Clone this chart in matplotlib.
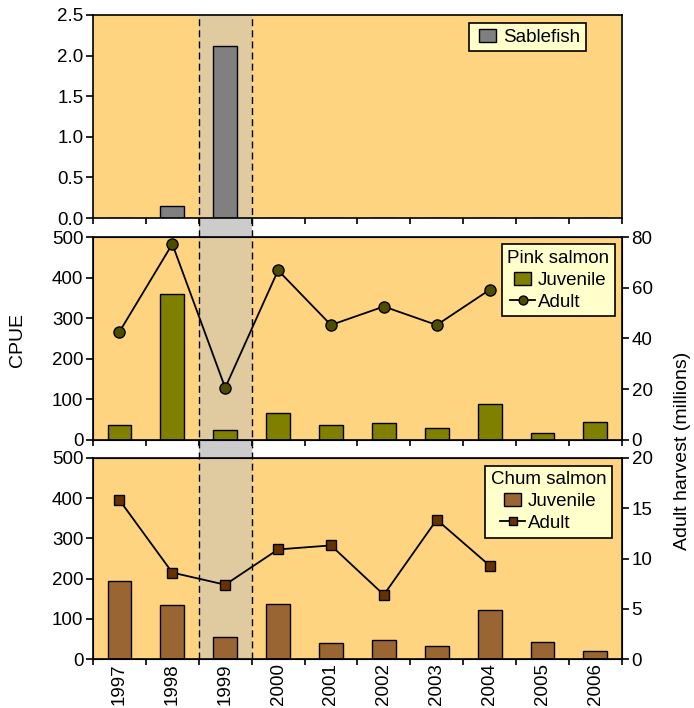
"""
Sablefish / pink salmon / chum salmon CPUE panels, 1997-2006
"""

import matplotlib
matplotlib.use('Agg')
import matplotlib.pyplot as plt
import matplotlib.transforms as mtransforms
from matplotlib.legend_handler import HandlerPatch
from matplotlib.lines import Line2D
from matplotlib.patches import Rectangle
import numpy as np

plt.rcParams['font.family'] = ['Liberation Sans', 'DejaVu Sans']
plt.rcParams['font.size'] = 14

# data
years = ['1997', '1998', '1999', '2000', '2001', '2002', '2003', '2004', '2005', '2006']
sablefish_cpue = [0, 0.15, 2.12, 0, 0, 0, 0, 0, 0, 0]
pink_juvenile = [36, 359, 25, 66, 36, 40, 30, 89, 17, 44]
pink_adult = [42.6, 77.3, 20.5, 66.9, 45.3, 52.6, 45.3, 59.2]
chum_juvenile = [195, 135, 55, 138, 40, 47, 32, 123, 44, 21]
chum_adult = [15.8, 8.6, 7.4, 10.9, 11.3, 6.4, 13.85, 9.3]
highlight_year = '1999'

# colours
bg_color = '#FFD480'
band_color = '#DFCB9F'
gap_color = '#CCCCCC'
legend_face = '#FFFFCC'
tick_size = 13.5
legend_size = 13.5

x = np.arange(len(years))
hi = years.index(highlight_year)
bar_w = 0.45

fig = plt.figure(figsize=(6.94, 7.08), dpi=100)
left, width = 0.134, 0.762
ax_top = fig.add_axes([left, 0.692, width, 0.287])
ax_mid = fig.add_axes([left, 0.379, width, 0.286])
ax_bot = fig.add_axes([left, 0.0688, width, 0.2847])
ax_mid2 = ax_mid.twinx()
ax_bot2 = ax_bot.twinx()


def small_box(legend, orig_handle, xdescent, ydescent, width, height, fontsize):
    # narrow box centred in the handle area
    w = height * 1.3
    return Rectangle((xdescent + (width - w) / 2, -ydescent), w, height)


def style_axes(ax):
    ax.set_facecolor(bg_color)
    ax.set_xlim(-0.5, len(years) - 0.5)
    ax.set_xticks(np.arange(-0.5, len(years), 1.0))
    ax.set_xticklabels([])
    ax.set_xticks(x, minor=True)
    ax.tick_params(axis='x', which='major', direction='out', length=4, width=1.2)
    ax.tick_params(axis='x', which='minor', length=0)
    ax.tick_params(axis='y', direction='out', length=5, width=1.2, pad=2,
                   labelsize=tick_size)
    for sp in ax.spines.values():
        sp.set_linewidth(1.2)
    ax.axvspan(hi - 0.5, hi + 0.5, color=band_color, zorder=0, lw=0)


def legend_style(ax, handles, labels, anchor, title=None):
    leg = ax.legend(handles, labels, loc='upper right', bbox_to_anchor=anchor,
                    borderaxespad=0, fancybox=False, framealpha=1,
                    facecolor=legend_face, edgecolor='black', title=title,
                    title_fontsize=legend_size, fontsize=legend_size,
                    borderpad=0.3, labelspacing=0.25, handletextpad=0.15,
                    handlelength=1.35, markerscale=0.8,
                    handler_map={Rectangle: HandlerPatch(patch_func=small_box)})
    leg.get_frame().set_linewidth(1.2)
    leg.set_zorder(10)
    return leg


for ax in (ax_top, ax_mid, ax_bot):
    style_axes(ax)

# top panel: sablefish
b_sable = ax_top.bar(x, sablefish_cpue, width=bar_w, color='#808080',
                     edgecolor='black', lw=1.0, zorder=2)
ax_top.set_ylim(0, 2.5)
ax_top.set_yticks(np.arange(0, 2.51, 0.5))
ax_top.set_yticklabels([f'{v:.1f}' for v in np.arange(0, 2.51, 0.5)])
legend_style(ax_top, [b_sable.patches[0]], ['Sablefish'], (0.932, 0.96))

# middle panel: pink salmon
b_pink = ax_mid.bar(x, pink_juvenile, width=bar_w, color='#808000',
                    edgecolor='black', lw=1.0, zorder=2)
ax_mid.set_ylim(0, 500)
ax_mid.set_yticks(range(0, 501, 100))
ax_mid2.plot(x[:len(pink_adult)], pink_adult, color='black', lw=1.3,
             marker='o', markersize=8, markerfacecolor='#4D4D00',
             markeredgecolor='black', markeredgewidth=1.0, zorder=3)
ax_mid2.set_ylim(0, 80)
ax_mid2.set_yticks(range(0, 81, 20))
ax_mid2.tick_params(axis='y', direction='out', length=5, width=1.2, pad=2,
                    labelsize=tick_size)
ln_pink = Line2D([], [], color='black', lw=1.3, marker='o', markersize=8,
                 markerfacecolor='#4D4D00', markeredgecolor='black')
ax_mid2.set_zorder(ax_mid.get_zorder() + 1)
ax_mid2.patch.set_visible(False)
legend_style(ax_mid2, [b_pink.patches[0], ln_pink], ['Juvenile', 'Adult'],
             (0.987, 0.965), title='Pink salmon')

# bottom panel: chum salmon
b_chum = ax_bot.bar(x, chum_juvenile, width=bar_w, color='#996633',
                    edgecolor='black', lw=1.0, zorder=2)
ax_bot.set_ylim(0, 500)
ax_bot.set_yticks(range(0, 501, 100))
ax_bot2.plot(x[:len(chum_adult)], chum_adult, color='black', lw=1.3,
             marker='s', markersize=7.5, markerfacecolor='#663300',
             markeredgecolor='black', markeredgewidth=1.0, zorder=3)
ax_bot2.set_ylim(0, 20)
ax_bot2.set_yticks(range(0, 21, 5))
ax_bot2.tick_params(axis='y', direction='out', length=5, width=1.2, pad=2,
                    labelsize=tick_size)
ln_chum = Line2D([], [], color='black', lw=1.3, marker='s', markersize=7.5,
                 markerfacecolor='#663300', markeredgecolor='black')
ax_bot2.set_zorder(ax_bot.get_zorder() + 1)
ax_bot2.patch.set_visible(False)
legend_style(ax_bot2, [b_chum.patches[0], ln_chum], ['Juvenile', 'Adult'],
             (0.981, 0.96), title='Chum salmon')

# year labels on the bottom panel
ax_bot.set_xticklabels(years, minor=True, rotation=90, fontsize=tick_size)
ax_bot.tick_params(axis='x', which='minor', pad=3)

# highlighted year band across the gaps, plus dashed borders
blend = mtransforms.blended_transform_factory(ax_bot.transData, fig.transFigure)
y_low = 0.0688
y_high = 0.979
fig.add_artist(Rectangle((hi - 0.5, y_low), 1.0, y_high - y_low,
                         transform=blend, color=gap_color, lw=0, zorder=-1))
for xb in (hi - 0.5, hi + 0.5):
    fig.add_artist(Line2D([xb, xb], [y_low, y_high], transform=blend,
                          color='black', lw=1.0, ls=(0, (5, 3)), zorder=5))

fig.text(0.025, 0.52, 'CPUE', rotation=90, ha='center', va='center', fontsize=14)
fig.text(0.984, 0.363, 'Adult harvest (millions)', rotation=90,
         ha='center', va='center', fontsize=14)

fig.savefig('out.png', dpi=100, facecolor='white')
